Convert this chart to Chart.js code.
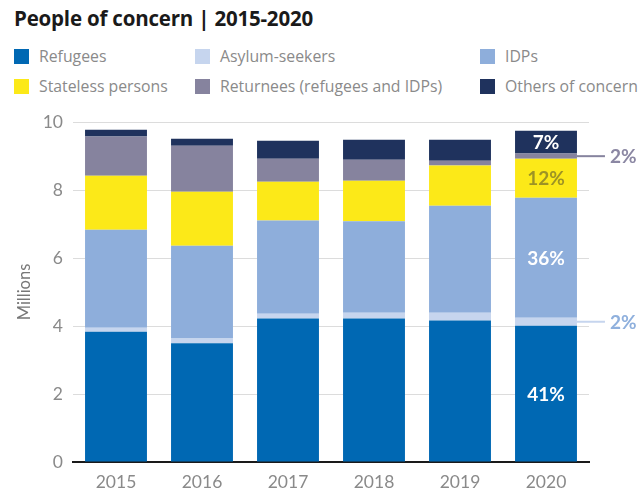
<!DOCTYPE html>
<html>
<head>
<meta charset="utf-8">
<script src="https://cdn.jsdelivr.net/npm/chart.js@4/dist/chart.umd.min.js"></script>
<style>
  html, body { margin: 0; padding: 0; background: #fff; }
  #wrap { position: relative; width: 642px; height: 488px; font-family: 'Open Sans', Lato, sans-serif; }
  #title { position: absolute; left: 14px; top: 4px; font-size: 20.5px; font-weight: 700; color: #1a1a1a; letter-spacing: -0.2px; }
  #legend { position: absolute; left: 14px; top: 45px; width: 628px; }
  .item { position: absolute; display: flex; align-items: center; font-size: 15.8px; color: #8a8a8a; white-space: nowrap; }
  .box { width: 15px; height: 15px; margin-right: 10px; }
  canvas { position: absolute; left: 0; top: 0; }
</style>
</head>
<body>
<div id="wrap">
  <div id="title">People of concern | 2015-2020</div>
  <div id="legend"></div>
  <canvas id="chart" width="642" height="488"></canvas>
</div>
<script>
const years = ['2015', '2016', '2017', '2018', '2019', '2020'];
const yTicks = [0, 2, 4, 6, 8, 10];

// values in millions
const refugees  = [3.83, 3.49, 4.22, 4.22, 4.16, 4.01];
const asylum    = [0.12, 0.14, 0.14, 0.17, 0.23, 0.23];
const idps      = [2.88, 2.73, 2.74, 2.69, 3.15, 3.53];
const stateless = [1.59, 1.59, 1.14, 1.19, 1.18, 1.15];
const returnees = [1.15, 1.35, 0.68, 0.62, 0.14, 0.15];
const others    = [0.20, 0.21, 0.53, 0.59, 0.62, 0.67];

const seriesNames = ['Refugees', 'Asylum-seekers', 'IDPs', 'Stateless persons', 'Returnees (refugees and IDPs)', 'Others of concern'];
const seriesColors = ['#0068b3', '#c6d5ee', '#8eaedb', '#fce918', '#86839e', '#1f325d'];

// 2020 share labels: [dataset index, text, inside bar?]
const shareLabels = [
  [0, '41%', true],
  [2, '36%', true],
  [3, '12%', true],
  [5, '7%', true],
  [4, '2%', false],
  [1, '2%', false]
];

// html legend, 3 columns x 2 rows
const legendEl = document.getElementById('legend');
const colX = [0, 181, 466];
seriesNames.forEach((name, i) => {
  const el = document.createElement('div');
  el.className = 'item';
  el.style.left = colX[i % 3] + 'px';
  el.style.top = (Math.floor(i / 3) * 30) + 'px';
  el.innerHTML = `<span class="box" style="background:${seriesColors[i]}"></span>${name}`;
  legendEl.appendChild(el);
});

const shareLabelPlugin = {
  id: 'shareLabels',
  afterDatasetsDraw(chart) {
    const ctx = chart.ctx;
    const last = years.length - 1;
    ctx.save();
    ctx.font = 'bold 19px Lato, "Open Sans", sans-serif';
    ctx.textBaseline = 'middle';
    shareLabels.forEach(([ds, text, inside]) => {
      const bar = chart.getDatasetMeta(ds).data[last];
      const yMid = (bar.y + bar.base) / 2;
      if (inside) {
        ctx.textAlign = 'center';
        ctx.fillStyle = ds === 3 ? '#9d9325' : '#ffffff';
        ctx.fillText(text, bar.x, yMid + 1);
      } else {
        const right = bar.x + bar.width / 2;
        ctx.strokeStyle = seriesColors[ds];
        ctx.lineWidth = 2;
        ctx.beginPath();
        ctx.moveTo(right, yMid);
        ctx.lineTo(right + 28, yMid);
        ctx.stroke();
        ctx.textAlign = 'left';
        ctx.fillStyle = ds === 4 ? '#8b87a3' : '#8fb0dd';
        ctx.fillText(text, right + 33, yMid + 1);
      }
    });
    ctx.restore();
  }
};

const allSeries = [refugees, asylum, idps, stateless, returnees, others];

new Chart(document.getElementById('chart'), {
  type: 'bar',
  data: {
    labels: years,
    datasets: allSeries.map((vals, i) => ({
      label: seriesNames[i],
      data: vals,
      backgroundColor: seriesColors[i],
      borderWidth: 0,
      barPercentage: 0.72,
      categoryPercentage: 1
    }))
  },
  options: {
    responsive: false,
    animation: false,
    layout: { padding: { top: 122, right: 53, left: 0, bottom: 0 } },
    plugins: {
      legend: { display: false },
      tooltip: { enabled: false }
    },
    scales: {
      x: {
        stacked: true,
        grid: { display: false },
        border: { display: true, color: '#1a1a1a', width: 2 },
        ticks: { color: '#8a8a8a', font: { family: 'Lato', size: 17.5 }, padding: 2 },
        afterFit(scale) { scale.height = 26; }
      },
      y: {
        stacked: true,
        min: 0,
        max: 10,
        afterBuildTicks(scale) { scale.ticks = yTicks.map(v => ({ value: v })); },
        grid: { color: '#dcdcdc', lineWidth: 1, drawTicks: false },
        border: { display: false },
        ticks: { color: '#8a8a8a', font: { family: 'Lato', size: 17.5 }, padding: 10 },
        title: { display: true, text: 'Millions', color: '#777', font: { family: 'Lato', size: 16.5 }, padding: { top: 15, bottom: 0 } },
        afterFit(scale) { scale.width = 73; }
      }
    }
  },
  plugins: [shareLabelPlugin]
});
</script>
</body>
</html>
